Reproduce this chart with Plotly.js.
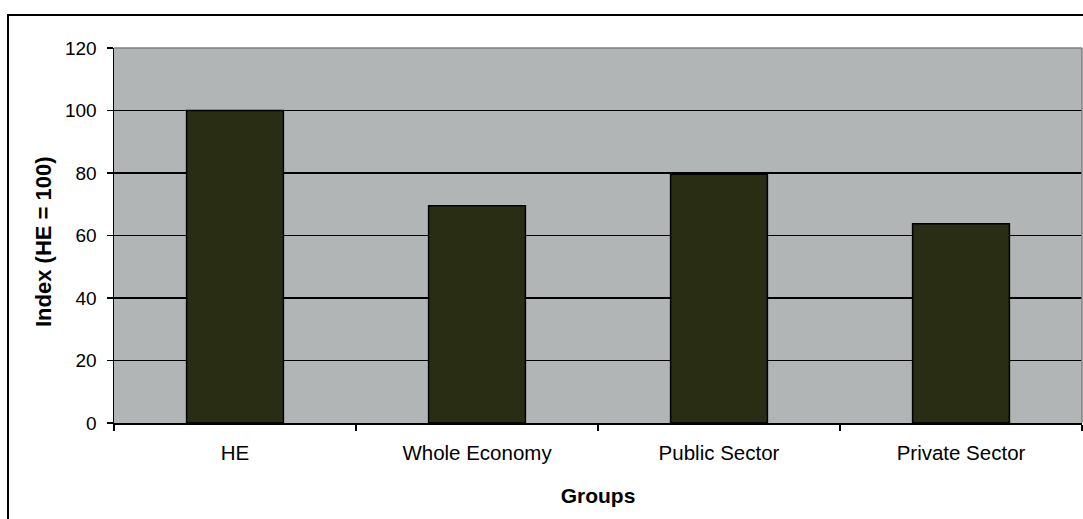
<!DOCTYPE html>
<html>
<head>
<meta charset="utf-8">
<script src="https://cdn.plot.ly/plotly-3.0.1.min.js"></script>
<style>
  html, body { margin: 0; padding: 0; background: #ffffff; }
  #wrap { position: relative; width: 1083px; height: 519px; overflow: hidden; }
  #chart { width: 1083px; height: 519px; }
  #frame { position: absolute; left: 7px; top: 14px; width: 1200px; height: 700px;
           border: 2px solid #000; box-sizing: border-box; pointer-events: none; }
</style>
</head>
<body>
<div id="wrap">
  <div id="chart"></div>
  <div id="frame"></div>
</div>
<script>
const categories = ["HE", "Whole Economy", "Public Sector", "Private Sector"];
const values = [100, 69.5, 79.6, 63.8];
const yTickValues = [0, 20, 40, 60, 80, 100, 120];
const xTitle = "Groups";
const yTitle = "Index (HE = 100)";

const FONT = "Liberation Sans, Arial, sans-serif";

const trace = {
  type: "bar",
  x: categories,
  y: values,
  marker: { color: "#292D14", line: { color: "#000000", width: 1.5 } },
  hoverinfo: "x+y"
};

const layout = {
  width: 1083,
  height: 519,
  margin: { l: 114, r: 1, t: 48, b: 96 },
  paper_bgcolor: "#ffffff",
  plot_bgcolor: "#B2B5B5",
  showlegend: false,
  bargap: 0.6,
  font: { family: FONT, color: "#000000", size: 19 },
  xaxis: {
    type: "category",
    tickson: "boundaries",
    ticks: "outside",
    ticklen: 6,
    tickwidth: 1.5,
    tickcolor: "#000000",
    showline: true,
    linecolor: "#000000",
    linewidth: 2,
    showgrid: false,
    tickfont: { family: FONT, size: 20.5, color: "#000" },
    ticklabelstandoff: 10,
    title: { text: xTitle, font: { family: FONT, size: 21, color: "#000", weight: "bold" }, standoff: 26 }
  },
  yaxis: {
    range: [0, 120],
    tickvals: yTickValues,
    ticks: "outside",
    ticklen: 6,
    tickwidth: 1.2,
    tickcolor: "#000000",
    showline: true,
    linecolor: "#000000",
    linewidth: 1.5,
    showgrid: true,
    gridcolor: "#000000",
    gridwidth: 1.1,
    zeroline: false,
    tickfont: { family: FONT, size: 19, color: "#000" },
    ticklabelstandoff: 6
  },
  annotations: [
    { text: "<b>" + yTitle + "</b>", xref: "paper", yref: "paper",
      x: (43 - 114) / 968, y: (423 - 242) / 375, xanchor: "center", yanchor: "middle",
      textangle: -90, showarrow: false,
      font: { family: FONT, size: 22, color: "#000" } }
  ],
  shapes: [
    { type: "line", xref: "paper", yref: "paper", x0: 0, x1: 1, y0: 1, y1: 1,
      line: { color: "#808080", width: 1.5 }, layer: "above" },
    { type: "line", xref: "paper", yref: "paper", x0: 1, x1: 1, y0: 0, y1: 1,
      line: { color: "#808080", width: 1.5 }, layer: "above" }
  ]
};

Plotly.newPlot("chart", [trace], layout, { displayModeBar: false, staticPlot: true });
</script>
</body>
</html>
